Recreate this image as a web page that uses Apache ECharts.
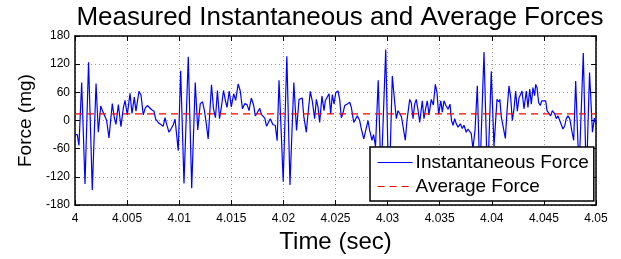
<!DOCTYPE html>
<html>
<head>
<meta charset="utf-8">
<script src="https://cdn.jsdelivr.net/npm/echarts@6/dist/echarts.min.js"></script>
<style>
  html, body { margin: 0; padding: 0; background: #fff; }
  #chart { width: 621px; height: 259px; }
</style>
</head>
<body>
<div id="chart"></div>
<script>
// time offsets after 4 s, in milliseconds
var timeMs = [
  0.00, 0.22, 0.38, 0.64, 0.96, 1.30, 1.66, 2.02, 2.24, 2.47, 2.66, 2.83, 3.04, 3.26, 3.58, 3.77,
  3.93, 4.16, 4.41, 4.64, 4.80, 5.02, 5.28, 5.47, 5.69, 5.85, 6.14, 6.33, 6.55, 6.75, 6.94, 7.13,
  7.36, 7.58, 7.74, 7.90, 8.06, 8.25, 8.47, 8.64, 8.80, 9.02, 9.21, 9.43, 9.60, 9.76, 9.91, 10.14,
  10.46, 10.87, 11.20, 11.54, 11.78, 12.02, 12.24, 12.43, 12.60, 12.78, 13.10, 13.29, 13.48, 13.67,
  13.87, 14.06, 14.25, 14.44, 14.59, 14.80, 15.00, 15.23, 15.42, 15.66, 15.86, 16.07, 16.29, 16.51,
  16.70, 16.92, 17.15, 17.30, 17.50, 17.73, 17.88, 18.04, 18.21, 18.38, 18.55, 18.74, 19.00, 19.22,
  19.40, 19.58, 19.77, 19.98, 20.33, 20.63, 21.00, 21.26, 21.50, 21.69, 21.81, 21.95, 22.20, 22.36,
  22.58, 22.77, 23.00, 23.16, 23.32, 23.48, 23.70, 23.90, 24.02, 24.18, 24.38, 24.54, 24.69, 24.86,
  25.02, 25.24, 25.40, 25.56, 25.72, 25.88, 26.13, 26.36, 26.52, 26.75, 26.92, 27.09, 27.32, 27.48,
  27.71, 27.90, 28.12, 28.28, 28.50, 28.65, 28.84, 29.10, 29.37, 29.82, 30.13, 30.45, 30.68, 30.84,
  31.00, 31.19, 31.33, 31.48, 31.70, 31.86, 32.12, 32.27, 32.44, 32.60, 32.75, 32.92, 33.08, 33.33,
  33.49, 33.66, 33.81, 33.97, 34.19, 34.39, 34.58, 34.74, 34.90, 35.10, 35.25, 35.41, 35.60, 35.80,
  35.99, 36.13, 36.28, 36.44, 36.59, 36.76, 36.98, 37.17, 37.33, 37.55, 37.71, 37.88, 38.03, 38.19,
  38.39, 38.61, 38.85, 39.25, 39.59, 39.95, 40.21, 40.50, 40.66, 40.77, 40.91, 41.08, 41.30, 41.46,
  41.65, 41.81, 41.97, 42.13, 42.29, 42.45, 42.61, 42.76, 42.90, 43.09, 43.31, 43.47, 43.64, 43.79,
  43.95, 44.11, 44.21, 44.34, 44.50, 44.65, 44.79, 44.98, 45.17, 45.30, 45.49, 45.65, 45.81, 46.04,
  46.19, 46.35, 46.52, 46.67, 46.83, 47.00, 47.15, 47.31, 47.48, 47.60, 47.73, 47.86, 48.05, 48.37,
  48.78, 49.07, 49.38, 49.66, 49.84, 50.00
];
// instantaneous force (mg)
var forceMg = [
  -30, -30, -53, 81, -135, 124, -148, 79, -25, 31, 20, 18, 0, -37, 36, 6,
  -8, 34, -13, 27, 43, 12, 58, 15, 50, 20, 62, 55, 12, 27, 32, 32,
  23, 20, 3, 6, -6, -4, -12, 6, -8, -25, -18, -9, 3, 0, -64, 106,
  -134, 136, -144, 81, -20, 36, 40, 20, -7, -39, 76, 25, 6, 64,
  4, 30, 64, 42, 28, 63, 29, 57, 43, 78, 63, 25, 36, 34,
  21, 48, 32, 10, 17, 26, 13, 9, 5, -12, -8, 4, -9, -10,
  -43, 86, -14, -130, 137, -137, 81, -21, 45, 42, 48, 10, -25, 14,
  62, 42, 4, 45, 29, -4, 52, 21, 42, 40, 57, 14, 55, 35,
  59, 63, 45, 6, 16, 32, 35, 39, 28, -4, -1, 10, 0, -18,
  -39, -21, 0, -21, -42, -30, -55, 86, -125, 151, -168, 95, 39, 4,
  21, 14, 8, 10, -42, 0, 45, 38, 4, 35, 45, 22, -4, 42,
  4, 27, 42, 12, 45, 33, 77, 60, 13, 42, 18, 42, 32, 24,
  35, 0, -10, 4, -7, -14, -7, -17, -10, -25, -18, -21, -28, -60,
  -20, 74, -120, 146, -132, 105, -55, 45, 40, 45, 8, 4, -38, 20,
  74, 50, 0, 25, 63, 20, 48, 48, 63, 25, 63, 28, 67, 35,
  70, 53, 77, 70, 38, 32, 42, 38, 42, 21, 17, 10, 21, 14,
  4, 10, 0, 4, -18, -11, 4, 10, 4, 7, -28, -42, 84, -110,
  144, -130, 102, -25, 5, -8
];
var averageForce = 14;
var tStart = 4, tEnd = 4.05, tStep = 0.005;
var xTickLabels = ['4', '4.005', '4.01', '4.015', '4.02', '4.025', '4.03', '4.035', '4.04', '4.045', '4.05'];
var yTicks = [-180, -120, -60, 0, 60, 120, 180];
var seriesNames = ['Instantaneous Force', 'Average Force'];

var instData = timeMs.map(function (ms, i) { return [tStart + ms / 1000, forceMg[i]]; });
var avgData = [[tStart, averageForce], [tEnd, averageForce]];

var font = '"Liberation Sans", Arial, sans-serif';
var myChart = echarts.init(document.getElementById('chart'));
var boxAxis = { onZero: false, lineStyle: { color: '#000', width: 1.5 } };
var inTick = { show: true, inside: true, length: 5, lineStyle: { color: '#000', width: 1 } };
var dotGrid = { show: true, lineStyle: { color: '#999', type: [1, 3], width: 1 } };

var options = {
  animation: false,
  backgroundColor: '#fff',
  title: {
    text: 'Measured Instantaneous and Average Forces',
    left: 335, top: 0, textAlign: 'center',
    textStyle: { fontFamily: font, fontSize: 26, fontWeight: 'normal', color: '#000' }
  },
  grid: { left: 75, right: 25, top: 36, bottom: 52 },
  legend: {
    data: seriesNames,
    orient: 'vertical',
    left: 370, top: 147,
    padding: [6, 5, 5, 7],
    itemGap: 5,
    itemWidth: 35, itemHeight: 14,
    itemStyle: { opacity: 0 },
    lineStyle: { width: 1.2 },
    backgroundColor: '#fff',
    borderColor: '#000', borderWidth: 1.5,
    textStyle: { fontFamily: font, fontSize: 19, color: '#000', padding: [0, 0, 0, -2] }
  },
  xAxis: [
    {
      type: 'value', min: tStart, max: tEnd, interval: tStep,
      name: 'Time (sec)', nameLocation: 'middle', nameGap: 20,
      nameTextStyle: { fontFamily: font, fontSize: 24, color: '#000' },
      axisLine: boxAxis, axisTick: inTick, splitLine: dotGrid,
      axisLabel: {
        fontFamily: font, fontSize: 12, color: '#000', margin: 8,
        formatter: function (v) { return xTickLabels[Math.round((v - tStart) / tStep)]; }
      }
    },
    {
      type: 'value', position: 'top', min: tStart, max: tEnd, interval: tStep,
      axisLine: boxAxis, axisTick: inTick, axisLabel: { show: false }, splitLine: { show: false }
    }
  ],
  yAxis: [
    {
      type: 'value', min: yTicks[0], max: yTicks[yTicks.length - 1], interval: 60,
      name: 'Force (mg)', nameLocation: 'middle', nameGap: 36,
      nameTextStyle: { fontFamily: font, fontSize: 19, color: '#000' },
      axisLine: boxAxis, axisTick: inTick, splitLine: dotGrid,
      axisLabel: { fontFamily: font, fontSize: 12, color: '#000', margin: 5 }
    },
    {
      type: 'value', position: 'right', min: yTicks[0], max: yTicks[yTicks.length - 1], interval: 60,
      axisLine: boxAxis, axisTick: inTick, axisLabel: { show: false }, splitLine: { show: false }
    }
  ],
  series: [
    {
      name: seriesNames[0], type: 'line', data: instData,
      symbol: 'none', lineStyle: { color: '#0000ff', width: 1.2 }, itemStyle: { color: '#0000ff' }
    },
    {
      name: seriesNames[1], type: 'line', data: avgData,
      symbol: 'none', lineStyle: { color: '#ff0000', width: 1.2, type: [7, 5] }, itemStyle: { color: '#ff0000' }
    }
  ]
};
myChart.setOption(options);
</script>
</body>
</html>
